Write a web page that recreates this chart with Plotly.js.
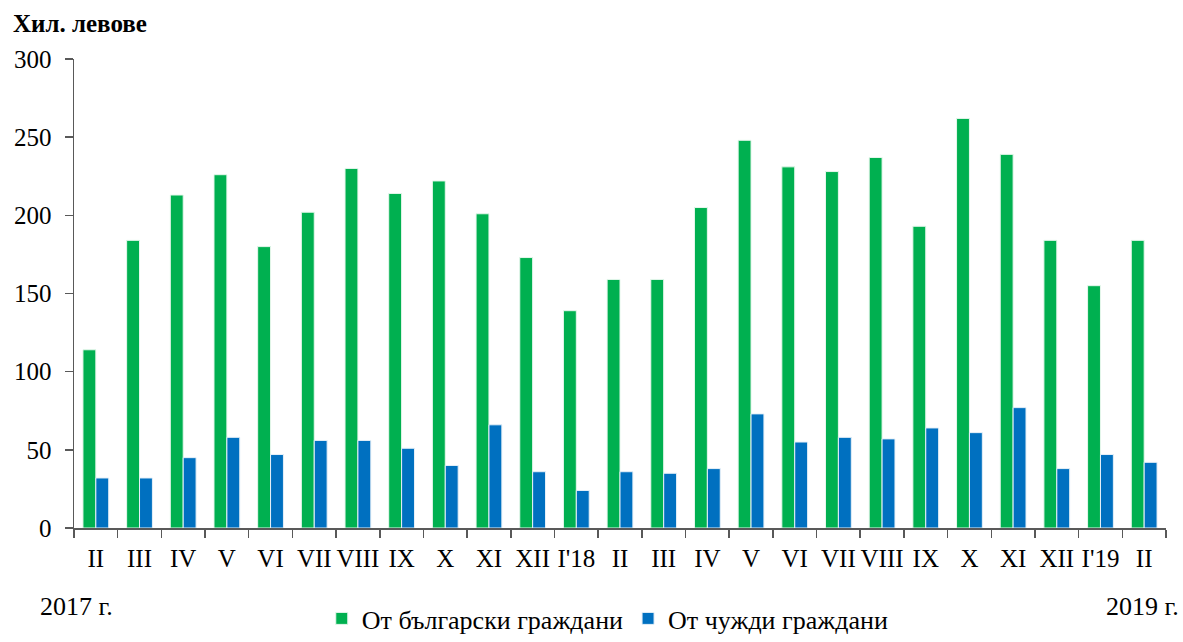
<!DOCTYPE html>
<html>
<head>
<meta charset="utf-8">
<script src="https://cdn.plot.ly/plotly-3.0.1.min.js"></script>
<style>html,body{margin:0;padding:0;background:#fff;}#chart{width:1183px;height:642px;}</style>
</head>
<body>
<div id="chart"></div>
<script>
const monthLabels = ["II","III","IV","V","VI","VII","VIII","IX","X","XI","XII","I'18","II","III","IV","V","VI","VII","VIII","IX","X","XI","XII","I'19","II"];
const bulgarianCitizens = [114,184,213,226,180,202,230,214,222,201,173,139,159,159,205,248,231,228,237,193,262,239,184,155,184];
const foreignCitizens = [32,32,45,58,47,56,56,51,40,66,36,24,36,35,38,73,55,58,57,64,61,77,38,47,42];
const seriesNames = ["От български граждани","От чужди граждани"];
const yTickVals = [0,50,100,150,200,250,300];

// unique category keys (zero-width spaces keep duplicates distinct)
const seen = {};
const cats = monthLabels.map(l => { seen[l] = (seen[l]||0)+1; return l + "\u200b".repeat(seen[l]-1); });

const fam = "'Liberation Serif','Times New Roman',serif";
const font = {family: fam, size: 25, color: "#000"};
const bigFont = {family: fam, size: 26, color: "#000"};

const traces = [
  {type:"bar", x:cats, y:bulgarianCitizens, name:seriesNames[0], marker:{color:"#00B050", line:{color:"#e6f7ec", width:1}}},
  {type:"bar", x:cats, y:foreignCitizens, name:seriesNames[1], marker:{color:"#0070C0", line:{color:"#e6f0f8", width:1}}}
];

const layout = {
  width:1183, height:642,
  margin:{l:74, r:17, t:59, b:114},
  paper_bgcolor:"#fff", plot_bgcolor:"#fff",
  font: font,
  barmode:"group", bargap:0.41, bargroupgap:0,
  showlegend:true,
  legend:{orientation:"h", xref:"container", yref:"container", x:0.272, xanchor:"left", y:0.0, yanchor:"bottom",
          font:bigFont, itemclick:false, tracegroupgap:0, itemwidth:30},
  xaxis:{type:"category", tickson:"boundaries", ticks:"outside", ticklen:8, tickcolor:"#595959", tickwidth:1.5,
         showline:true, linecolor:"#595959", linewidth:1.5, showgrid:false, tickfont:font, ticklabelstandoff:7,
         tickangle:0, fixedrange:true},
  yaxis:{range:[0,300], tickvals:yTickVals, ticks:"outside", ticklen:8, tickcolor:"#595959", tickwidth:1.5,
         showline:true, linecolor:"#595959", linewidth:1.5, showgrid:false, zeroline:false, tickfont:font,
         ticklabelstandoff:8, fixedrange:true},
  annotations:[
    {text:"<b>Хил. левове</b>", xref:"paper", yref:"paper", x:-0.058, y:1.075, xanchor:"left", yanchor:"middle", showarrow:false, font:font},
    {text:"2017 г.", xref:"paper", yref:"paper", x:-0.033, y:-0.168, xanchor:"left", yanchor:"middle", showarrow:false, font:bigFont},
    {text:"2019 г.", xref:"paper", yref:"paper", x:1.014, y:-0.168, xanchor:"right", yanchor:"middle", showarrow:false, font:bigFont}
  ]
};

Plotly.newPlot("chart", traces, layout, {displayModeBar:false, staticPlot:true});
</script>
</body>
</html>
